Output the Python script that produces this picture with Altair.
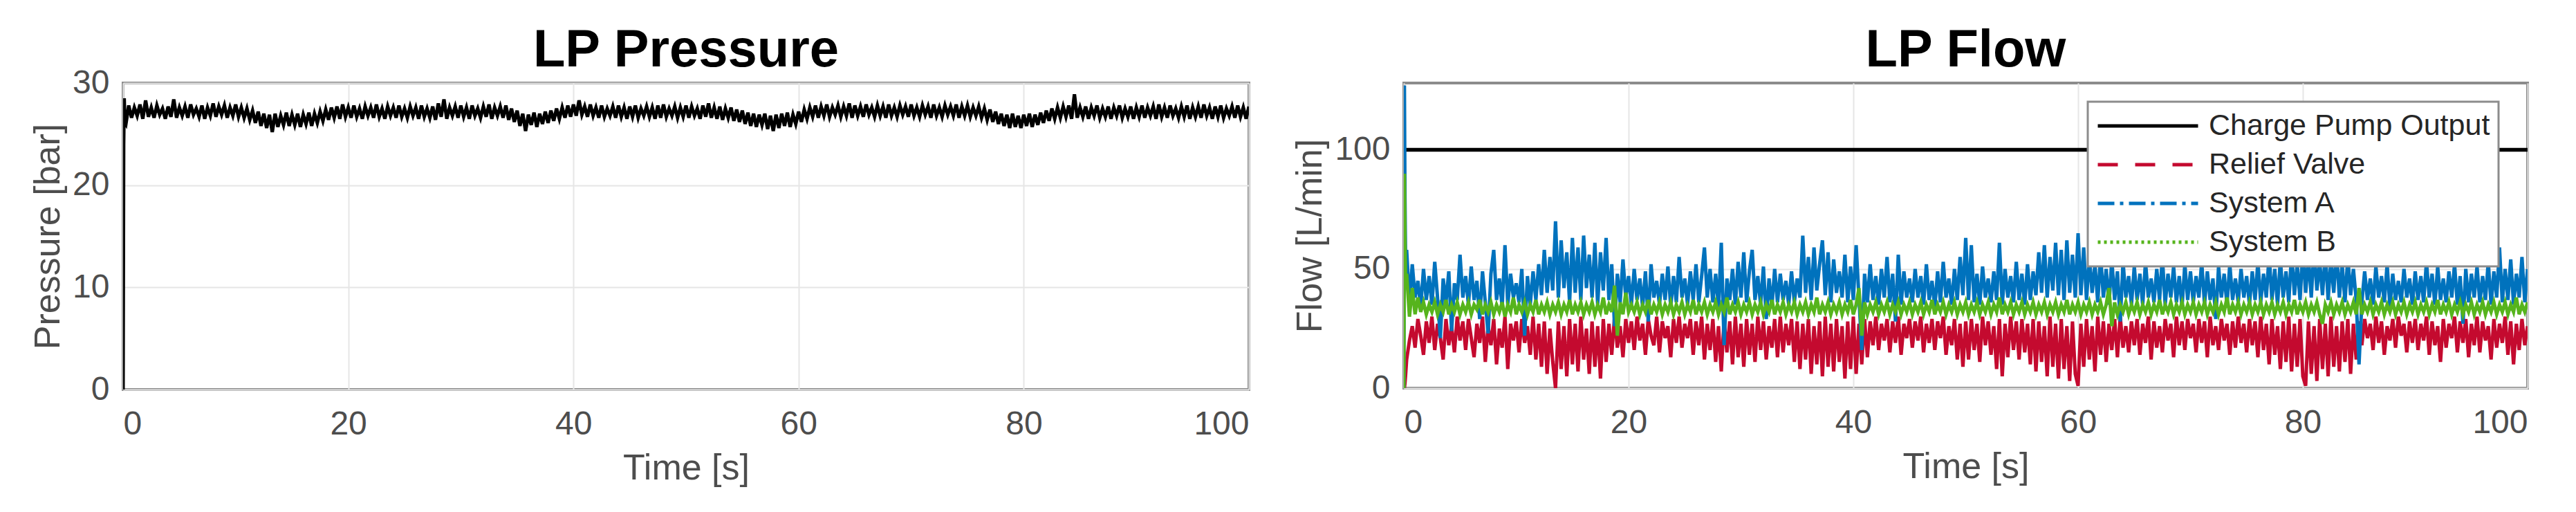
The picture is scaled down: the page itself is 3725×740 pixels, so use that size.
import altair as alt
import pandas as pd

# ---------------- data ----------------
START_T = [0.0, 0.05, 0.1, 0.15]
MAIN_T = [round(0.25 * (i + 1), 2) for i in range(400)]  # 0.25 .. 100 s

PRESSURE_START = [0.0, 24.0, 28.5, 26.2]
PRESSURE = [
    26.0, 27.8, 26.6, 27.6, 26.8, 27.9, 26.5, 28.3, 26.7, 27.6, 26.6, 27.8, 26.9, 27.5, 26.5, 27.7, 26.7, 28.4, 26.6, 27.6,
    26.8, 27.7, 26.6, 27.9, 26.9, 27.5, 26.7, 27.8, 26.5, 27.6, 26.8, 28.0, 26.7, 27.7, 26.9, 27.8, 26.6, 27.6, 26.8, 27.9,
    26.7, 27.6, 26.6, 27.5, 26.4, 27.3, 26.1, 27.2, 25.8, 27.0, 25.6, 26.9, 25.2, 27.0, 25.7, 26.8, 25.9, 27.1, 25.8, 26.9,
    25.9, 27.0, 25.7, 26.9, 26.0, 27.1, 25.8, 27.0, 26.1, 27.2, 26.3, 27.4, 26.4, 27.6, 26.6, 27.7, 26.5, 27.9, 26.7, 27.6,
    26.6, 27.8, 26.7, 27.5, 26.5, 27.7, 26.8, 27.6, 26.6, 27.9, 26.7, 27.5, 26.5, 27.7, 26.8, 27.6, 26.6, 27.8, 26.7, 27.5,
    26.6, 27.7, 26.8, 27.6, 26.5, 27.8, 26.7, 27.5, 26.6, 27.7, 26.4, 28.0, 26.7, 28.4, 26.5, 27.6, 26.8, 27.7, 26.6, 27.8,
    26.7, 27.6, 26.5, 27.8, 26.8, 27.5, 26.6, 27.7, 26.7, 27.9, 26.5, 27.6, 26.8, 27.7, 26.6, 27.8, 26.4, 27.5, 26.2, 27.3,
    25.8, 27.0, 25.3, 26.9, 25.9, 27.1, 25.7, 27.0, 26.0, 27.2, 26.1, 27.3, 26.3, 27.5, 26.5, 27.6, 26.6, 27.8, 26.7, 27.9,
    26.8, 28.3, 26.9, 27.7, 26.7, 27.9, 26.8, 27.6, 26.6, 27.8, 26.7, 27.5, 26.8, 27.7, 26.6, 27.8, 26.7, 27.6, 26.5, 27.7,
    26.7, 27.8, 26.6, 27.5, 26.8, 27.7, 26.7, 27.6, 26.5, 27.8, 26.6, 27.9, 26.7, 27.5, 26.8, 27.7, 26.6, 27.6, 26.7, 27.8,
    26.6, 27.7, 26.8, 27.5, 26.5, 27.8, 26.7, 28.0, 26.6, 27.6, 26.5, 27.7, 26.4, 27.5, 26.6, 27.6, 26.3, 27.4, 26.2, 27.3,
    26.0, 27.1, 25.8, 27.0, 25.7, 26.9, 25.9, 27.0, 25.5, 26.8, 25.3, 26.9, 25.6, 27.0, 25.8, 27.1, 25.7, 26.9, 26.0, 27.2,
    26.2, 27.4, 26.5, 27.6, 26.7, 27.8, 26.6, 27.7, 26.8, 27.9, 26.7, 27.6, 26.9, 27.8, 26.7, 27.7, 26.8, 28.0, 26.6, 27.8,
    26.8, 27.7, 26.7, 27.9, 26.9, 27.6, 26.7, 27.8, 26.8, 27.7, 26.6, 27.9, 26.8, 27.6, 26.7, 27.8, 26.9, 27.7, 26.7, 27.9,
    26.8, 27.6, 26.7, 27.8, 26.9, 27.7, 26.6, 27.9, 26.8, 27.6, 26.7, 27.8, 26.9, 27.7, 26.8, 27.9, 26.6, 27.7, 26.8, 27.8,
    26.7, 27.6, 26.8, 27.7, 26.6, 27.5, 26.4, 27.4, 26.2, 27.2, 26.0, 27.0, 25.8, 26.9, 25.6, 27.0, 25.7, 26.8, 25.6, 26.9,
    25.8, 27.0, 25.7, 26.9, 25.9, 27.1, 26.1, 27.3, 26.3, 27.5, 26.5, 27.6, 26.6, 27.7, 26.7, 27.8, 26.5, 28.9, 26.6, 27.6,
    26.7, 27.7, 26.5, 27.6, 26.8, 27.8, 26.6, 27.5, 26.7, 27.7, 26.5, 27.6, 26.8, 27.8, 26.6, 27.5, 26.7, 27.7, 26.5, 27.6,
    26.7, 27.8, 26.6, 27.6, 26.8, 27.7, 26.5, 27.9, 26.7, 27.6, 26.6, 27.8, 26.8, 27.5, 26.6, 27.7, 26.7, 27.8, 26.5, 27.6,
    26.7, 27.7, 26.6, 27.9, 26.8, 27.6, 26.5, 27.7, 26.7, 27.8, 26.6, 27.5, 26.8, 27.7, 26.6, 27.8, 26.7, 27.6, 26.5, 27.7,
]

PUMP_T = [0.0, 100.0]
PUMP = [100.0, 100.0]

RELIEF_START = [0, 0, 2, 5]
RELIEF = [
    12, 20, 26, 17, 29, 22, 14, 28, 19, 30, 16, 27, 21, 12, 29, 18, 26, 15, 30, 20,
    28, 16, 29, 21, 13, 27, 19, 30, 11, 26, 18, 29, 10, 25, 17, 30, 8, 27, 20, 28,
    15, 29, 19, 26, 14, 30, 12, 27, 9, 28, 6, 25, 11, 0, 28, 8, 26, 5, 29, 10,
    27, 7, 30, 12, 25, 6, 28, 9, 26, 4, 29, 11, 27, 14, 30, 17, 26, 13, 29, 19,
    28, 16, 30, 20, 27, 14, 29, 22, 18, 30, 15, 28, 21, 26, 13, 29, 19, 30, 17, 27,
    21, 29, 14, 28, 18, 30, 12, 27, 16, 29, 11, 26, 7, 29, 15, 28, 10, 30, 13, 27,
    9, 29, 14, 27, 11, 30, 16, 28, 12, 26, 17, 29, 13, 30, 15, 27, 18, 29, 11, 28,
    8, 27, 12, 29, 6, 26, 10, 28, 5, 30, 9, 27, 7, 29, 11, 26, 4, 28, 8, 30,
    6, 27, 10, 29, 13, 28, 18, 30, 16, 27, 20, 29, 15, 28, 19, 30, 14, 27, 21, 29,
    17, 28, 20, 30, 15, 27, 19, 29, 16, 28, 21, 30, 14, 26, 18, 29, 12, 27, 9, 28,
    12, 29, 16, 27, 11, 30, 18, 28, 14, 26, 8, 29, 5, 27, 13, 30, 16, 28, 12, 29,
    15, 27, 10, 29, 7, 28, 11, 26, 5, 30, 9, 27, 4, 29, 8, 26, 3, 28, 6, 1,
    27, 9, 29, 12, 26, 7, 30, 14, 28, 11, 27, 16, 29, 13, 30, 17, 26, 15, 28, 18,
    29, 14, 27, 19, 30, 12, 28, 17, 26, 15, 29, 20, 27, 13, 30, 18, 28, 16, 29, 21,
    27, 15, 29, 19, 28, 13, 30, 18, 26, 16, 29, 20, 27, 14, 28, 17, 30, 19, 27, 15,
    29, 18, 28, 13, 30, 16, 27, 10, 29, 14, 26, 8, 28, 11, 30, 7, 27, 9, 29, 5,
    1, 28, 6, 26, 3, 29, 8, 27, 5, 30, 9, 26, 7, 28, 11, 29, 6, 27, 12, 28,
    18, 29, 21, 27, 16, 30, 19, 28, 14, 26, 20, 29, 17, 30, 22, 27, 15, 28, 19, 29,
    16, 27, 20, 30, 14, 28, 18, 26, 11, 29, 17, 27, 21, 30, 15, 28, 19, 29, 13, 27,
    18, 30, 15, 28, 20, 26, 12, 29, 17, 27, 19, 30, 14, 28, 10, 27, 16, 29, 18, 26,
]

SYS_A_START = [0, 127, 80, 55]
SYS_A = [
    58, 36, 52, 38, 45, 34, 50, 37, 47, 35, 53, 38, 21, 46, 36, 49, 24, 44, 37, 56,
    38, 47, 35, 51, 37, 45, 29, 49, 36, 23, 48, 58, 37, 46, 34, 60, 35, 48, 38, 44,
    36, 50, 22, 47, 35, 49, 37, 52, 39, 58, 40, 55, 41, 70, 38, 62, 42, 57, 36, 63,
    40, 59, 37, 64, 42, 56, 38, 61, 35, 57, 41, 63, 37, 52, 26, 48, 36, 54, 38, 47,
    35, 50, 37, 46, 34, 49, 28, 52, 38, 45, 35, 48, 37, 51, 34, 47, 36, 55, 38, 46,
    35, 49, 37, 52, 36, 47, 59, 38, 50, 36, 48, 34, 61, 18, 46, 37, 50, 35, 53, 38,
    57, 36, 49, 58, 37, 47, 35, 51, 29, 46, 34, 50, 36, 48, 37, 45, 35, 49, 36, 46,
    38, 64, 40, 55, 37, 59, 41, 52, 62, 39, 57, 36, 54, 40, 49, 38, 56, 36, 51, 37,
    60, 38, 16, 48, 36, 52, 37, 47, 35, 50, 38, 55, 36, 48, 28, 56, 35, 49, 38, 46,
    36, 50, 38, 47, 35, 52, 37, 45, 34, 49, 36, 53, 38, 46, 35, 50, 37, 55, 39, 63,
    37, 60, 36, 48, 35, 51, 38, 46, 36, 49, 37, 61, 35, 50, 38, 47, 36, 53, 37, 48,
    35, 52, 37, 49, 39, 57, 40, 60, 38, 55, 41, 61, 39, 58, 37, 62, 40, 56, 38, 65,
    39, 59, 37, 55, 40, 52, 36, 56, 38, 50, 35, 54, 37, 49, 28, 53, 38, 47, 35, 51,
    37, 48, 35, 53, 38, 46, 36, 50, 37, 55, 35, 48, 38, 51, 36, 47, 34, 52, 37, 49,
    36, 47, 38, 53, 35, 49, 37, 46, 29, 51, 38, 48, 35, 52, 37, 46, 36, 50, 38, 47,
    35, 49, 37, 53, 36, 48, 38, 56, 37, 50, 35, 54, 38, 49, 36, 57, 39, 52, 37, 58,
    40, 55, 38, 59, 41, 53, 39, 57, 37, 54, 40, 58, 38, 52, 36, 55, 39, 50, 37, 10,
    36, 49, 37, 46, 35, 51, 38, 47, 36, 52, 34, 48, 37, 45, 36, 50, 38, 46, 35, 49,
    37, 47, 36, 53, 38, 48, 35, 51, 37, 46, 36, 49, 38, 52, 35, 47, 27, 50, 36, 48,
    38, 51, 36, 47, 37, 53, 35, 49, 38, 59, 36, 50, 37, 54, 35, 48, 38, 55, 36, 50,
]

SYS_B_START = [0, 90, 62, 46]
SYS_B = [
    48, 30, 42, 31, 38, 32, 36, 31, 35, 32, 36, 31, 35, 32, 37, 31, 35, 32, 36, 31,
    35, 32, 36, 31, 35, 33, 37, 31, 35, 32, 36, 31, 35, 32, 36, 30, 35, 32, 38, 31,
    35, 32, 36, 31, 35, 32, 37, 31, 35, 32, 36, 31, 35, 32, 36, 31, 35, 32, 37, 31,
    35, 32, 36, 31, 35, 32, 36, 31, 35, 32, 38, 31, 35, 32, 43, 22, 36, 31, 40, 32,
    35, 32, 36, 31, 35, 32, 37, 31, 35, 32, 36, 31, 35, 32, 36, 31, 35, 32, 36, 31,
    35, 32, 37, 31, 35, 32, 36, 31, 35, 32, 36, 31, 35, 32, 38, 31, 35, 32, 36, 31,
    35, 32, 36, 31, 35, 32, 36, 31, 35, 32, 37, 31, 35, 32, 36, 31, 35, 32, 36, 31,
    35, 32, 36, 31, 35, 32, 38, 31, 35, 32, 36, 31, 35, 32, 36, 31, 35, 32, 37, 31,
    35, 42, 22, 36, 31, 35, 32, 36, 31, 35, 32, 36, 31, 35, 32, 36, 31, 35, 32, 36,
    31, 35, 32, 36, 31, 35, 32, 37, 31, 35, 32, 36, 31, 35, 32, 36, 31, 35, 32, 36,
    31, 35, 32, 36, 31, 35, 32, 36, 31, 35, 32, 38, 31, 35, 32, 36, 31, 35, 32, 36,
    31, 35, 32, 36, 31, 35, 32, 36, 31, 35, 32, 36, 31, 35, 32, 37, 31, 35, 32, 36,
    31, 35, 32, 36, 31, 35, 32, 36, 31, 35, 42, 26, 36, 31, 35, 32, 36, 31, 35, 32,
    36, 31, 35, 32, 36, 31, 35, 32, 37, 31, 35, 32, 36, 31, 35, 32, 36, 31, 35, 32,
    36, 31, 35, 32, 36, 31, 35, 32, 36, 31, 35, 32, 38, 31, 35, 32, 36, 31, 35, 32,
    36, 31, 35, 32, 36, 31, 35, 32, 36, 31, 35, 32, 36, 31, 35, 32, 37, 31, 35, 32,
    36, 31, 35, 32, 36, 31, 27, 35, 32, 36, 31, 35, 32, 36, 31, 35, 32, 36, 31, 42,
    31, 35, 32, 36, 31, 35, 32, 36, 31, 35, 32, 36, 31, 35, 32, 36, 31, 35, 32, 36,
    31, 35, 32, 36, 31, 35, 32, 37, 31, 35, 32, 36, 31, 35, 32, 36, 31, 35, 32, 36,
    31, 35, 32, 36, 31, 35, 32, 36, 31, 35, 32, 36, 31, 35, 32, 38, 31, 35, 32, 36,
]

SERIES = ["Charge Pump Output", "Relief Valve", "System A", "System B"]
COLORS = ["#000000", "#c40a2f", "#0072bd", "#56b41c"]
DASHES = [[1, 0], [29, 25], [24, 8, 5, 8], [4, 5]]

X_TICKS = [0, 20, 40, 60, 80, 100]
P_TICKS = [0, 10, 20, 30]
F_TICKS = [0, 50, 100]

# ---------------- frames ----------------
press_df = pd.DataFrame({"t": START_T + MAIN_T, "v": PRESSURE_START + PRESSURE})
pump_df = pd.DataFrame({"t": PUMP_T, "v": PUMP})
relief_df = pd.DataFrame({"t": START_T + MAIN_T, "v": RELIEF_START + RELIEF})
a_df = pd.DataFrame({"t": START_T + MAIN_T, "v": SYS_A_START + SYS_A})
b_df = pd.DataFrame({"t": START_T + MAIN_T, "v": SYS_B_START + SYS_B})
legend_df = pd.DataFrame({"t": [0.0] * 4, "v": [100.0] * 4, "series": SERIES})

FONT = "Liberation Sans"

x_enc = alt.X("t:Q", scale=alt.Scale(domain=[0, 100], nice=False, zero=False),
              axis=alt.Axis(title="Time [s]", values=X_TICKS))


def title(txt, off):
    return alt.TitleParams(txt, fontSize=76, fontWeight="bold", font=FONT, color="#000000",
                           anchor="middle", offset=off)


left = alt.Chart(press_df).mark_line(color="#000000", strokeWidth=5, clip=True).encode(
    x=x_enc,
    y=alt.Y("v:Q", scale=alt.Scale(domain=[0, 30], nice=False),
            axis=alt.Axis(title="Pressure [bar]", values=P_TICKS)),
).properties(width=1628, height=443, title=title("LP Pressure", -16))

y_flow = alt.Y("v:Q", scale=alt.Scale(domain=[0, 128], nice=False),
               axis=alt.Axis(title="Flow [L/min]", values=F_TICKS))


def flow_line(df, color, width):
    return alt.Chart(df).mark_line(color=color, strokeWidth=width, clip=True).encode(x=x_enc, y=y_flow)


legend_props = dict(
    title=None, orient="none", legendX=2841, legendY=27, symbolType="stroke",
    symbolSize=145 * 145, symbolStrokeWidth=5, clipHeight=46, rowPadding=10,
    labelFontSize=43, labelFont=FONT, labelColor="#262626", labelOffset=13, labelLimit=800,
    padding=12, fillColor="#ffffff", strokeColor="#8c8c8c",
)

legend_layer = alt.Chart(legend_df).transform_filter("datum.t < 0").mark_line(strokeWidth=5).encode(
    x=x_enc, y=y_flow,
    color=alt.Color("series:N", scale=alt.Scale(domain=SERIES, range=COLORS),
                    legend=alt.Legend(**legend_props)),
    strokeDash=alt.StrokeDash("series:N", scale=alt.Scale(domain=SERIES, range=DASHES),
                              legend=alt.Legend(**legend_props)),
)

right = alt.layer(
    flow_line(pump_df, COLORS[0], 5.5),
    flow_line(relief_df, COLORS[1], 5),
    flow_line(a_df, COLORS[2], 5),
    flow_line(b_df, COLORS[3], 5),
    legend_layer,
).properties(width=1625, height=441, title=title("LP Flow", 8))

chart = alt.hconcat(left, right, spacing=58).properties(
    padding={"left": 33, "top": 25, "right": 5, "bottom": 5}
).configure_view(
    stroke="#8c8c8c", strokeWidth=4
).configure_axis(
    labelFont=FONT, labelFontSize=48, labelColor="#4d4d4d", labelPadding=20,
    titleFont=FONT, titleFontSize=52, titleFontWeight="normal", titleColor="#4d4d4d",
    titlePadding=8, grid=True, gridColor="#e6e6e6", gridWidth=2,
    domain=False, ticks=False,
).configure_axisX(titlePadding=14, labelPadding=26).configure_legend(
    strokeWidth=3
)

chart.save("out.html", embed_options={"renderer": "svg", "actions": False})
